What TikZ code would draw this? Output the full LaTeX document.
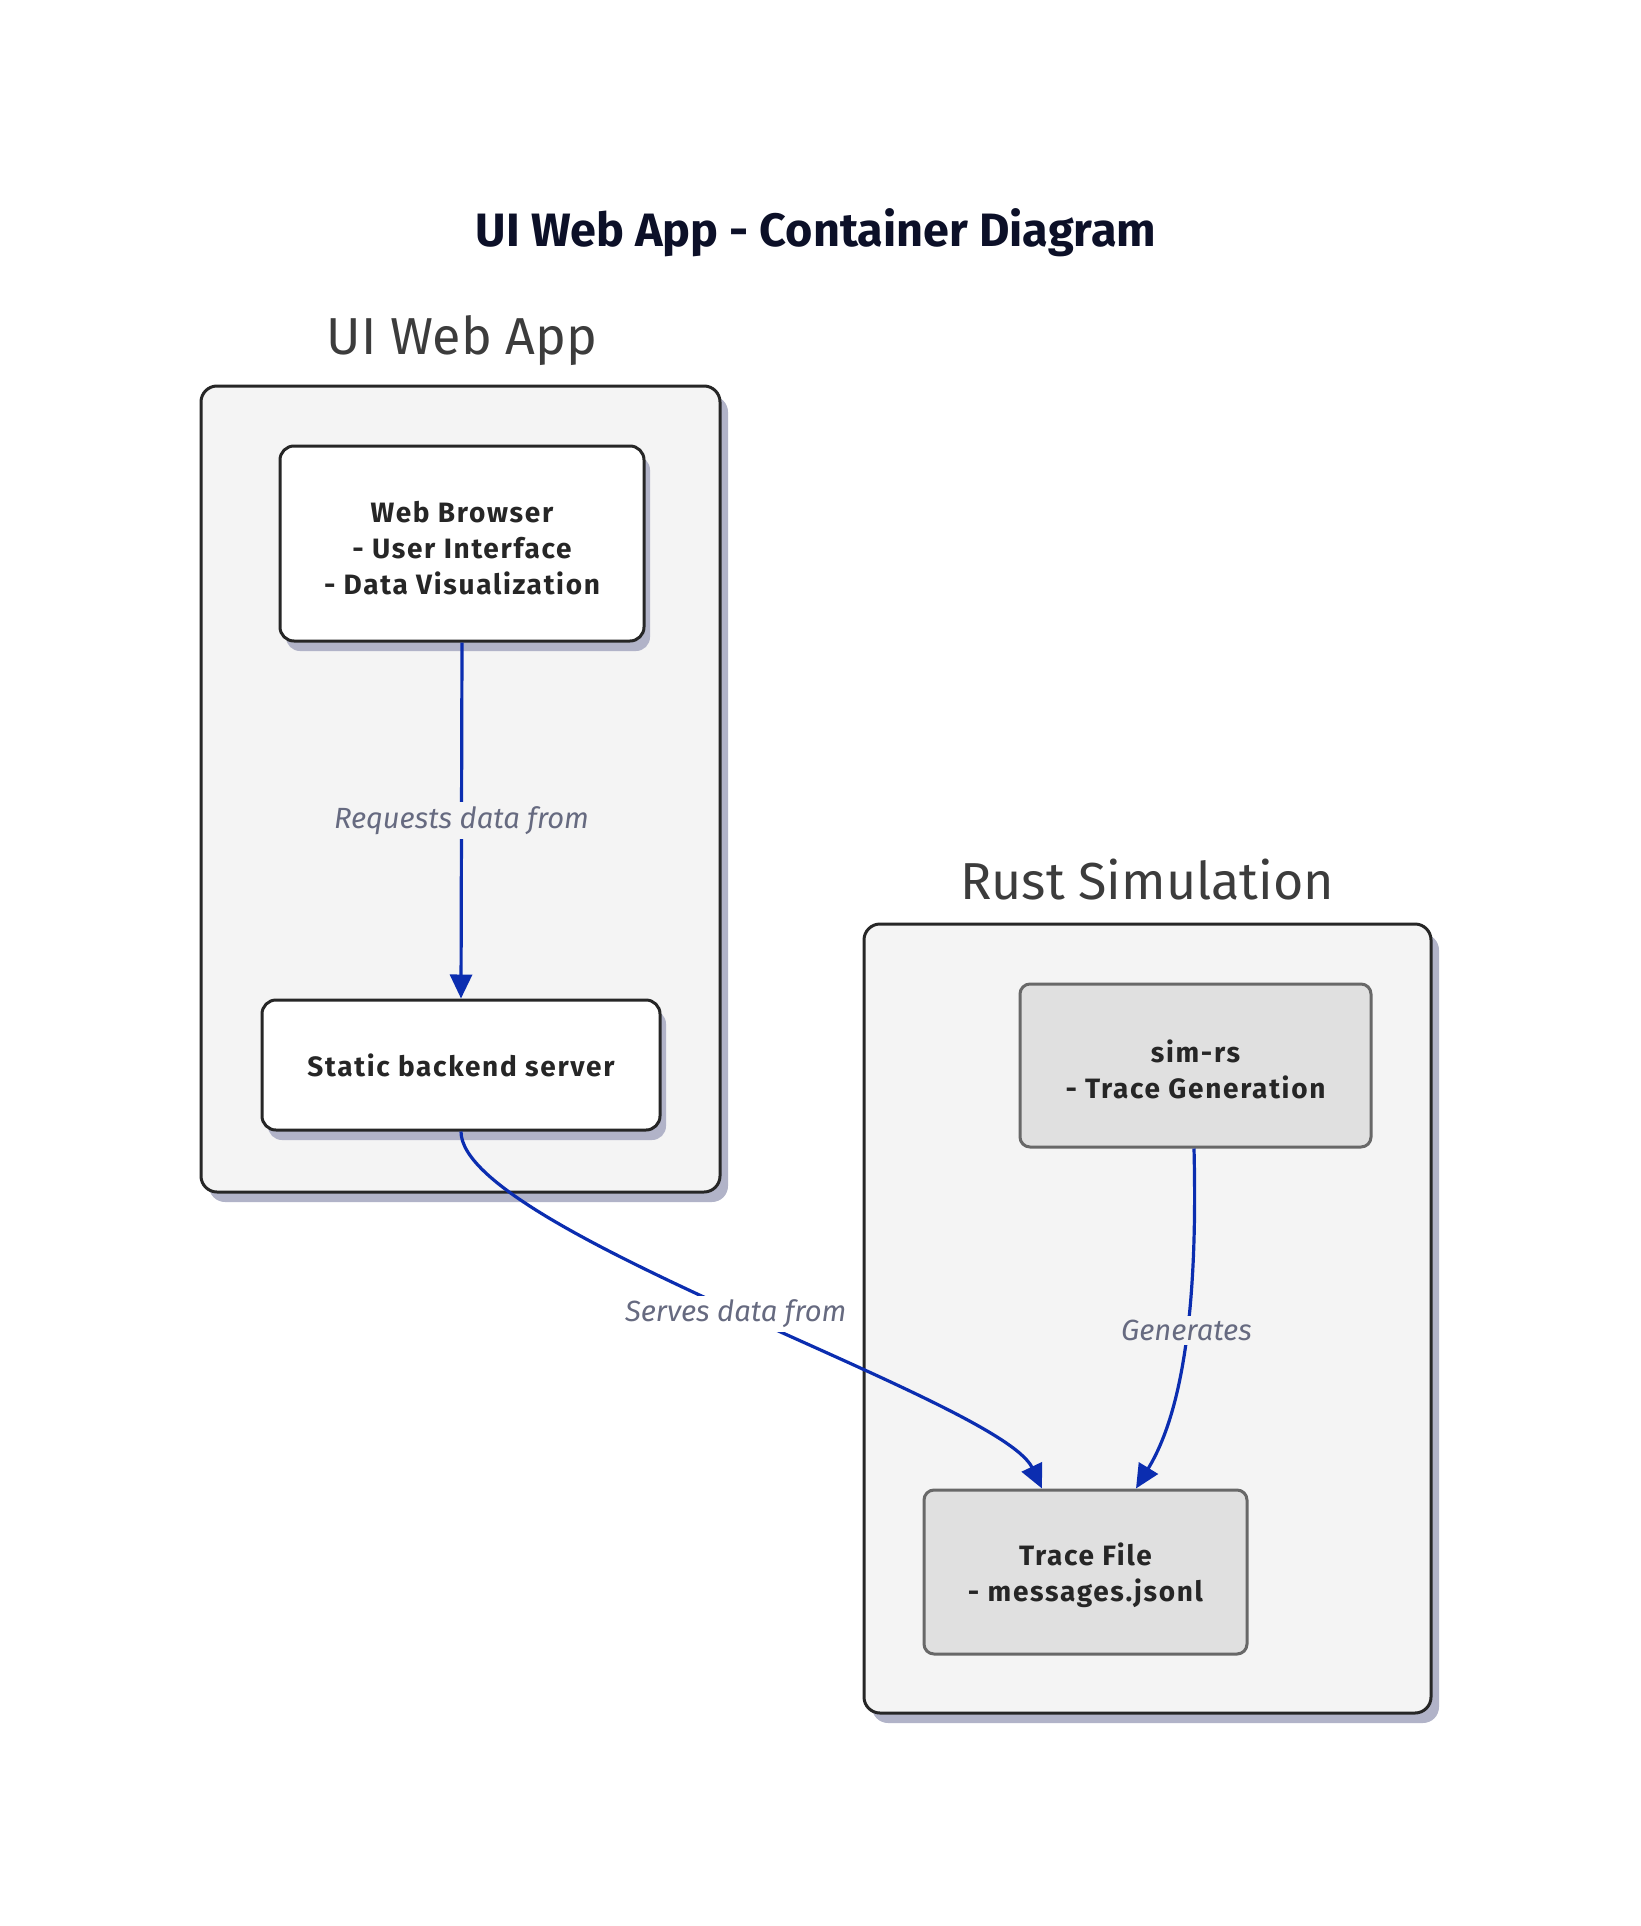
\documentclass[tikz,border=0pt]{standalone}
\usepackage{fontspec}
\setmainfont{Fira Sans}
\newfontfamily\gesperrt[LetterSpace=6]{Fira Sans}
\usetikzlibrary{arrows.meta,shadows}
\definecolor{rahmen}{HTML}{262626}
\definecolor{grenzefill}{HTML}{F4F4F4}
\definecolor{schatten}{HTML}{B1B3C8}
\definecolor{grau}{HTML}{E0E0E0}
\definecolor{graurand}{HTML}{686868}
\definecolor{pfeil}{HTML}{0B2DB0}
\definecolor{beschrift}{HTML}{666A80}
\definecolor{titel}{HTML}{0C1028}
\newcommand{\oben}{\rule{0pt}{15pt}}
\tikzset{
  grenze/.style={draw=rahmen,fill=grenzefill,line width=1.5pt,rounded corners=8pt,
    drop shadow={shadow xshift=4pt,shadow yshift=-5pt,fill=schatten,opacity=1}},
  box/.style={draw=rahmen,fill=white,line width=1.5pt,rounded corners=7pt,align=center,
    text=rahmen,font=\gesperrt\fontsize{14}{18}\selectfont\bfseries,
    drop shadow={shadow xshift=3pt,shadow yshift=-5pt,fill=schatten,opacity=1}},
  graubox/.style={draw=graurand,fill=grau,line width=1.5pt,rounded corners=5pt,align=center,
    text=rahmen,font=\gesperrt\fontsize{14}{18}\selectfont\bfseries},
  grenzetext/.style={text=rahmen!90,font=\fontsize{26}{30}\selectfont},
  kante/.style={draw=pfeil,line width=1.6pt,-{Triangle[length=12pt,width=11pt]}},
  kantetext/.style={text=beschrift,font=\fontsize{14.6}{17}\selectfont\itshape,inner sep=2pt}
}
\begin{document}
\begin{tikzpicture}[x=0.5pt,y=-0.5pt]
\useasboundingbox (0,0) rectangle (1640,1926);
%Titel
  \node[text=titel,font=\fontsize{23.4}{28}\selectfont\bfseries] (titel) at (816,233)
    {UI Web App - Container Diagram};
%Grenzen
  \node[grenze,minimum width=259.5pt,minimum height=403pt] (webapp) at (460.5,789) {};
  \node[grenzetext] (webapptext) at (462,341) {UI Web App};
  \node[grenze,minimum width=283.5pt,minimum height=394.5pt] (rustsim) at (1147.5,1318.5) {};
  \node[grenzetext] (rustsimtext) at (1147,880) {Rust Simulation};
%Knoten
  \node[box,minimum width=182pt,minimum height=97.5pt] (browser) at (462,543.5)
    {\oben Web Browser\\- User Interface\\- Data Visualization};
  \node[box,minimum width=199pt,minimum height=65pt] (backend) at (461,1065)
    {Static backend server};
  \node[graubox,minimum width=175.5pt,minimum height=81.5pt] (simrs) at (1195.5,1065.5)
    {\oben sim-rs\\- Trace Generation};
  \node[graubox,minimum width=161.5pt,minimum height=82pt] (tracefile) at (1085.5,1572)
    {\oben Trace File\\- messages.jsonl};
%Kanten
  \draw[kante] (browser.south) -- node[kantetext,fill=grenzefill] {Requests data from}
    (backend.north);
  \draw[kante] (backend.south) .. controls (461,1230) and (1000,1400) ..
    node[kantetext,fill=white,pos=0.5] {Serves data from} (tracefile.north -| 1042,0);
  \draw[kante] (simrs.south -| 1194,0) .. controls (1197,1270) and (1190,1400) ..
    node[kantetext,fill=grenzefill,pos=0.5] {Generates} (tracefile.north -| 1136,0);
\end{tikzpicture}
\end{document}
